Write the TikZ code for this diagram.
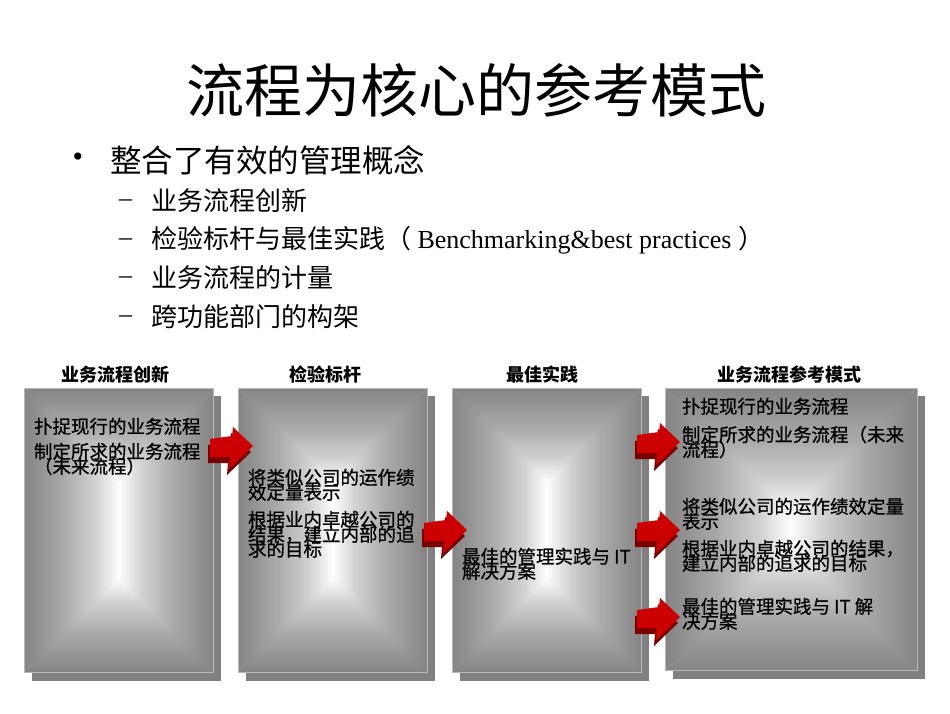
\documentclass[tikz,border=0pt]{standalone}
\usepackage{fontspec}
\setmainfont{Liberation Serif}
\newfontfamily\cjk{Noto Sans CJK SC}
\newfontfamily\cjkb[FakeBold=0.8]{Noto Sans CJK SC}
\newcommand\tightlines{\lineskiplimit=-30pt\relax\lineskip=0pt\relax}

\definecolor{edgeg}{HTML}{848484}
\definecolor{midg}{HTML}{A8A8A8}
\definecolor{lightg}{HTML}{D0D0D0}
\definecolor{paleg}{HTML}{F0F0F0}
\definecolor{shadowg}{HTML}{808080}
\definecolor{arrred}{HTML}{CC0000}
\definecolor{arrdark}{HTML}{7A0000}

\pgfdeclarehorizontalshading{gradL}{100bp}{color(0bp)=(edgeg); color(25bp)=(edgeg); color(45bp)=(midg); color(62bp)=(lightg); color(71bp)=(paleg); color(75bp)=(white); color(100bp)=(white)}
\pgfdeclarehorizontalshading{gradR}{100bp}{color(0bp)=(white); color(25bp)=(white); color(29bp)=(paleg); color(38bp)=(lightg); color(55bp)=(midg); color(75bp)=(edgeg); color(100bp)=(edgeg)}
\pgfdeclareverticalshading{gradB}{100bp}{color(0bp)=(edgeg); color(25bp)=(edgeg); color(45bp)=(midg); color(62bp)=(lightg); color(71bp)=(paleg); color(75bp)=(white); color(100bp)=(white)}
\pgfdeclareverticalshading{gradT}{100bp}{color(0bp)=(white); color(25bp)=(white); color(29bp)=(paleg); color(38bp)=(lightg); color(55bp)=(midg); color(75bp)=(edgeg); color(100bp)=(edgeg)}

\tikzset{
  every node/.style={inner sep=0pt, outer sep=0pt},
  titletxt/.style={font=\cjk\fontsize{58}{64}\selectfont},
  lvlone/.style={anchor=west, font=\cjk\fontsize{31.5}{36}\selectfont},
  lvltwo/.style={anchor=west, font=\fontsize{26}{30}\selectfont},
  bulletmark/.style={font=\fontsize{30}{34}\selectfont},
  dashmark/.style={anchor=west, font=\fontsize{26}{30}\selectfont},
  hdr/.style={font=\cjk\bfseries\fontsize{18}{20}\selectfont},
  boxtxt/.style={anchor=north west, align=left,
    font={\cjkb\fontsize{18.5}{15}\selectfont\tightlines}},
  boxframe/.style={draw=gray!55, line width=0.6pt},
  boxshadow/.style={fill=shadowg},
  arrowface/.style={fill=arrred},
  arrowside/.style={fill=arrdark},
}

% name, L, T, R, B
\newcommand\gradbox[5]{%
  \pgfmathsetmacro\gbh{(#4-#2)/2}%
  \pgfmathsetmacro\gbx{(#2+#4)/2}%
  \pgfmathsetmacro\gbya{#3+\gbh}%
  \pgfmathsetmacro\gbyb{#5-\gbh}%
  \pgfmathsetmacro\gbw{#4-#2}%
  \pgfmathsetmacro\gbht{#5-#3}%
  \pgfmathsetmacro\gbcy{(#3+#5)/2}%
  \fill[boxshadow] (#2+8,#3+8) rectangle (#4+8,#5+9);
  \shade[shading=gradL] (#2,#3) -- (\gbx+0.5,\gbya) -- (\gbx+0.5,\gbyb) -- (#2,#5) -- cycle;
  \shade[shading=gradR] (#4,#3) -- (\gbx-0.5,\gbya) -- (\gbx-0.5,\gbyb) -- (#4,#5) -- cycle;
  \shade[shading=gradT] (#2,#3) -- (#4,#3) -- (\gbx,\gbya) -- cycle;
  \shade[shading=gradB] (#2,#5) -- (#4,#5) -- (\gbx,\gbyb) -- cycle;
  \node[boxframe, minimum width=\gbw pt, minimum height=\gbht pt] (#1) at (\gbx,\gbcy) {};
}

% origin x, y (shaft left, tip height)
\newcommand\blockarrow[2]{%
  \begin{scope}[shift={(#1,#2)}]
    \fill[arrowside] (-2,-1) -- (20,-4) -- (21,-13) -- (41,6) -- (17,29) -- (18,17) -- (-2,17) -- cycle;
    \fill[arrowface] (0,-7) -- (22,-10) -- (23,-19) -- (43,0) -- (19,23) -- (20,11) -- (0,11) -- cycle;
  \end{scope}
}

\begin{document}
\begin{tikzpicture}[x=1pt, y=-1pt]
  \useasboundingbox (0,0) rectangle (950,713);
  \fill[white] (0,0) rectangle (950,713);

  % title
  \node[titletxt] (title) at (476,90) {流程为核心的参考模式};

  % bullet list
  \node[bulletmark] (bul) at (78,160) {•};
  \node[lvlone] (l1) at (110,160) {整合了有效的管理概念};
  \node[dashmark] (d1) at (119,203) {–};
  \node[lvltwo] (s1) at (151,201) {{\cjk 业务流程创新}};
  \node[dashmark] (d2) at (119,242) {–};
  \node[lvltwo] (s2) at (151,240) {{\cjk 检验标杆与最佳实践（} Benchmarking\&best practices {\cjk ）}};
  \node[dashmark] (d3) at (119,280) {–};
  \node[lvltwo] (s3) at (151,278) {{\cjk 业务流程的计量}};
  \node[dashmark] (d4) at (119,319) {–};
  \node[lvltwo] (s4) at (151,317) {{\cjk 跨功能部门的构架}};

  % headers
  \node[hdr] (h1) at (115,375) {业务流程创新};
  \node[hdr] (h2) at (325,375) {检验标杆};
  \node[hdr] (h3) at (542,375) {最佳实践};
  \node[hdr] (h4) at (789,375) {业务流程参考模式};

  % boxes
  \gradbox{b1}{24}{388}{213}{672}
  \gradbox{b2}{238}{388}{427}{672}
  \gradbox{b3}{452}{388}{641}{672}
  \gradbox{b4}{665}{388}{917}{670}

  % box 1 text
  \node[boxtxt] (t1a) at (34,417.75) {扑捉现行的业务流程};
  \node[boxtxt] (t1b) at (34,442.75) {制定所求的业务流程\\（未来流程）};

  % box 2 text
  \node[boxtxt] (t2a) at (248,468.75) {将类似公司的运作绩\\效定量表示};
  \node[boxtxt] (t2b) at (248,510.75) {根据业内卓越公司的\\结果，建立内部的追\\求的目标};

  % box 3 text
  \node[boxtxt] (t3a) at (462,547.75) {最佳的管理实践与 IT\\解决方案};

  % box 4 text
  \node[boxtxt] (t4a) at (682,397.75) {扑捉现行的业务流程};
  \node[boxtxt] (t4b) at (682,425.75) {制定所求的业务流程（未来\\流程）};
  \node[boxtxt] (t4c) at (682,497.75) {将类似公司的运作绩效定量\\表示};
  \node[boxtxt] (t4d) at (682,539.75) {根据业内卓越公司的结果，\\建立内部的追求的目标};
  \node[boxtxt] (t4e) at (682,597.75) {最佳的管理实践与 IT 解\\决方案};

  % red block arrows
  \blockarrow{210}{446}
  \blockarrow{424}{530}
  \blockarrow{637}{442}
  \blockarrow{637}{530}
  \blockarrow{637}{617}
\end{tikzpicture}
\end{document}
